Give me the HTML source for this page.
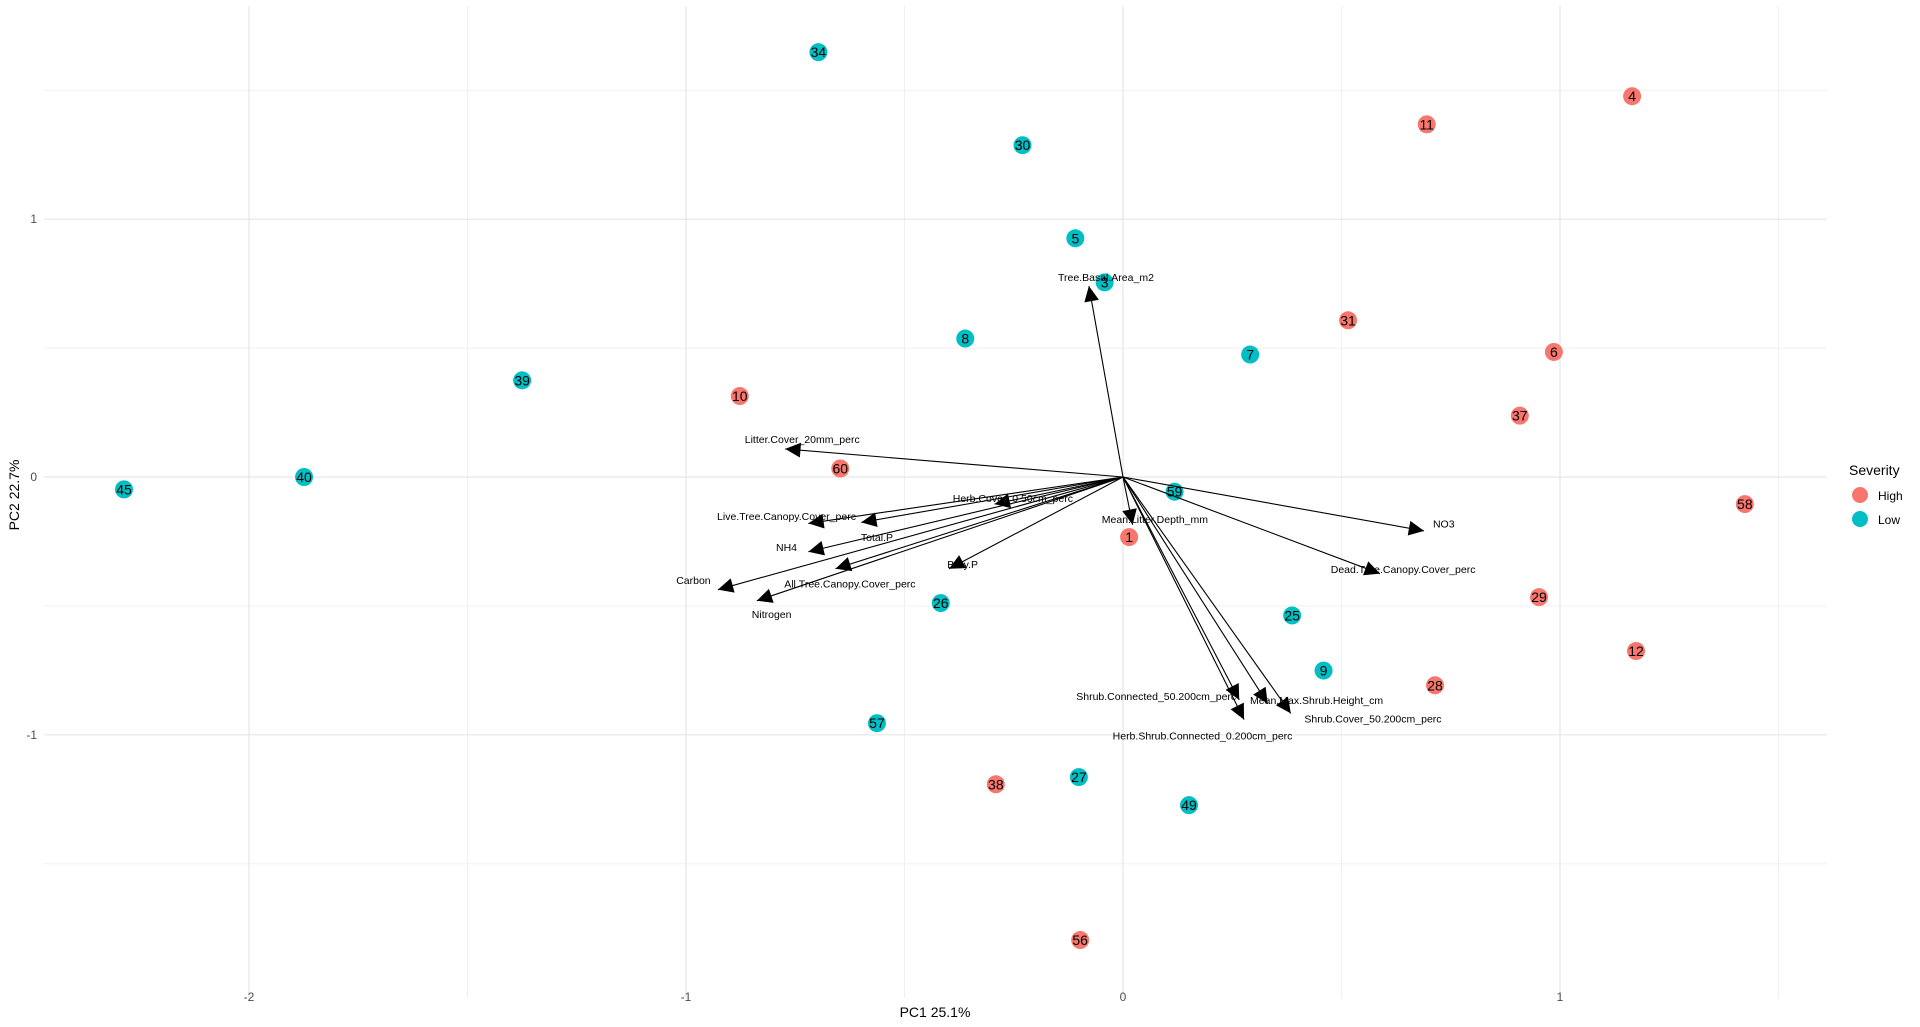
<!DOCTYPE html>
<html><head><meta charset="utf-8"><style>
html,body{margin:0;padding:0;background:#fff;}
svg{display:block;font-family:"Liberation Sans",Arial,sans-serif;}
</style></head><body>
<svg id="chart" width="1920" height="1027" viewBox="0 0 1920 1027"></svg>
<script>
const xTicks=[-2,-1,0,1];
const xMinor=[-1.5,-0.5,0.5,1.5];
const yTicks=[-1,0,1];
const yMinor=[-1.5,-0.5,0.5,1.5];
const pointLabels=["34","30","5","3","8","7","39","10","60","40","45","59","1","26","25","9","57","27","38","49","56","11","4","31","6","37","58","29","12","28"];
const pointX=[-0.697,-0.230,-0.109,-0.042,-0.361,0.291,-1.375,-0.877,-0.647,-1.874,-2.286,0.118,0.014,-0.417,0.387,0.459,-0.563,-0.101,-0.291,0.151,-0.098,0.695,1.165,0.515,0.986,0.908,1.423,0.952,1.174,0.714];
const pointY=[1.648,1.287,0.926,0.755,0.537,0.475,0.375,0.314,0.033,0,-0.048,-0.057,-0.233,-0.489,-0.537,-0.751,-0.955,-1.164,-1.192,-1.273,-1.796,1.368,1.477,0.608,0.485,0.238,-0.105,-0.466,-0.675,-0.808];
const pointSeverity=["Low","Low","Low","Low","Low","Low","Low","High","High","Low","Low","Low","High","Low","Low","Low","Low","Low","High","Low","High","High","High","High","High","High","High","High","High","High"];
const arrowNames=["Tree.Basal.Area_m2","Litter.Cover_20mm_perc","Herb.Cover_0.50cm_perc","Live.Tree.Canopy.Cover_perc","Total.P","NH4","All.Tree.Canopy.Cover_perc","Carbon","Nitrogen","Bray.P","Mean.Litter.Depth_mm","NO3","Dead.Tree.Canopy.Cover_perc","Shrub.Connected_50.200cm_perc","Mean.Max.Shrub.Height_cm","Shrub.Cover_50.200cm_perc","Herb.Shrub.Connected_0.200cm_perc"];
const arrowX=[-0.078,-0.773,-0.294,-0.72,-0.599,-0.72,-0.658,-0.927,-0.838,-0.398,0.022,0.689,0.588,0.266,0.331,0.384,0.277];
const arrowY=[0.741,0.109,-0.105,-0.18,-0.176,-0.29,-0.356,-0.437,-0.48,-0.356,-0.185,-0.209,-0.375,-0.865,-0.879,-0.917,-0.941];
const labelX=[-0.039,-0.734,-0.252,-0.770,-0.563,-0.770,-0.625,-0.983,-0.804,-0.367,0.073,0.734,0.641,0.076,0.443,0.572,0.182];
const labelY=[0.775,0.147,-0.081,-0.152,-0.233,-0.271,-0.413,-0.399,-0.532,-0.337,-0.162,-0.181,-0.356,-0.850,-0.865,-0.936,-1.002];
const colors={High:"#F8766D",Low:"#00BFC4"};
const X0=1123,XU=437,Y0=477,YU=257.8;
const sx=v=>X0+v*XU, sy=v=>Y0-v*YU;
const L=44,R=1827,T=6,B=998;
const svg=document.getElementById('chart');
const NS="http://www.w3.org/2000/svg";
function mk(tag,attrs,parent){const e=document.createElementNS(NS,tag);for(const k in attrs)e.setAttribute(k,attrs[k]);(parent||svg).appendChild(e);return e;}
const grid=mk('g',{});


xMinor.forEach(v=>mk('line',{x1:sx(v),x2:sx(v),y1:T,y2:B,stroke:'#f0f0f0','stroke-width':1},grid));
yMinor.forEach(v=>mk('line',{x1:L,x2:R,y1:sy(v),y2:sy(v),stroke:'#f0f0f0','stroke-width':1},grid));
xTicks.forEach(v=>mk('line',{x1:sx(v),x2:sx(v),y1:T,y2:B,stroke:'#e6e6e6','stroke-width':1.2},grid));
yTicks.forEach(v=>mk('line',{x1:L,x2:R,y1:sy(v),y2:sy(v),stroke:'#e6e6e6','stroke-width':1.2},grid));
xTicks.forEach(v=>{const t=mk('text',{x:sx(v),y:1001,'text-anchor':'middle','font-size':12,fill:'#4d4d4d'});t.textContent=v;

});
yTicks.forEach(v=>{const t=mk('text',{x:37,y:sy(v)+4,'text-anchor':'end','font-size':12,fill:'#4d4d4d'});t.textContent=v;

});
const xt=mk('text',{x:935,y:1017,'text-anchor':'middle','font-size':14,fill:'#000'});xt.textContent='PC1 25.1%';


const yt=mk('text',{x:19,y:495,'text-anchor':'middle','font-size':14,fill:'#000',transform:'rotate(-90 19 495)'});yt.textContent='PC2 22.7%';


// points
const pg=mk('g',{});


pointLabels.forEach((lab,i)=>{
  const c=mk('circle',{cx:sx(pointX[i]),cy:sy(pointY[i]),r:9,fill:colors[pointSeverity[i]]},pg);
  
  
  const t=mk('text',{x:sx(pointX[i]),y:sy(pointY[i])+5,'text-anchor':'middle','font-size':14,fill:'#000'},pg);
  t.textContent=lab;
  
  
});
// arrows
const ag=mk('g',{});


arrowNames.forEach((n,i)=>{
  const x1=sx(0),y1=sy(0),x2=sx(arrowX[i]),y2=sy(arrowY[i]);
  const ln=mk('line',{x1,y1,x2,y2,stroke:'#000','stroke-width':1.1},ag);
  
  
  const a=Math.atan2(y2-y1,x2-x1),s=17,w=0.45;
  const p=[[x2,y2],[x2-s*Math.cos(a-w),y2-s*Math.sin(a-w)],[x2-s*Math.cos(a+w),y2-s*Math.sin(a+w)]];
  const h=mk('polygon',{points:p.map(q=>q.join(',')).join(' '),fill:'#000'},ag);
  
  
  const t=mk('text',{x:sx(labelX[i]),y:sy(labelY[i])+4,'text-anchor':'middle','font-size':10.5,fill:'#000'},ag);
  t.textContent=n;
  
  
});
// legend
const lg=mk('g',{});


const lt=mk('text',{x:1849,y:475,'font-size':14,fill:'#000'},lg);lt.textContent='Severity';


["High","Low"].forEach((k,i)=>{
  const y=495+i*24;
  const c=mk('circle',{cx:1860,cy:y,r:8,fill:colors[k]},lg);
  
  
  const t=mk('text',{x:1878,y:y+5,'font-size':12,fill:'#000'},lg);t.textContent=k;
  
  
});
</script>
</body></html>
